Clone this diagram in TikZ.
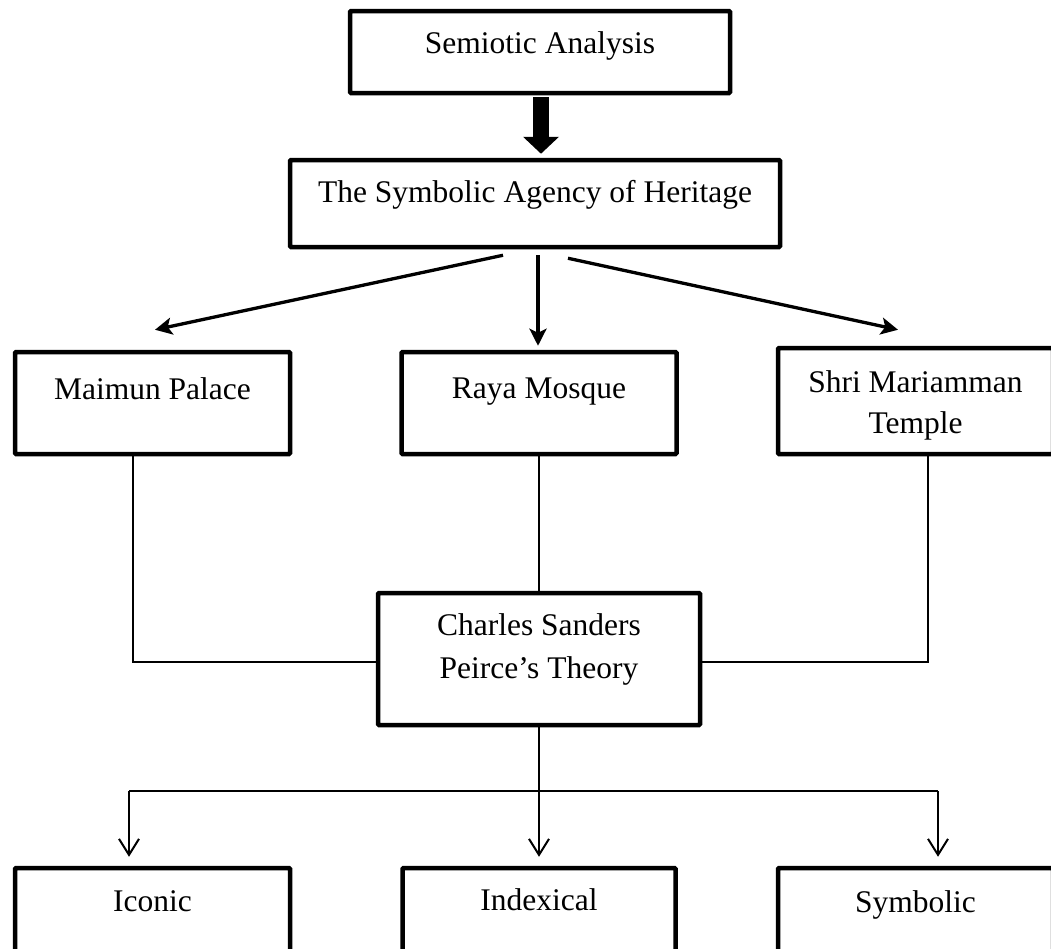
\documentclass[tikz,border=0pt]{standalone}
\usepackage{fontspec}
\setmainfont{Liberation Serif}
\usetikzlibrary{arrows.meta}
\begin{document}
\begin{tikzpicture}[x=1pt,y=-1pt,
  box/.style={draw, line width=4.5pt, inner sep=0pt, rounded corners=1pt},
  lbl/.style={anchor=base, font=\fontsize{31.5}{42}\selectfont, inner sep=0pt},
  bigarrow/.style={line width=16pt, -{Triangle[length=17pt,width=35pt]}},
  diag/.style={line width=3.3pt, -{Stealth[length=17pt,width=17pt,inset=4pt]}},
  thinline/.style={line width=1.6pt},
  barb/.style={line width=2pt, -{Straight Barb[length=16pt,width=20pt]}}
]
\fill[white] (0,0) rectangle (1051,948);
\useasboundingbox (0,0) rectangle (1051,948);

% boxes
\node[box, minimum width=380pt, minimum height=82pt] (sem) at (540,52) {};
\node[box, minimum width=490pt, minimum height=87pt] (sym) at (535,203.5) {};
\node[box, minimum width=275pt, minimum height=102pt] (mai) at (152.5,403) {};
\node[box, minimum width=275pt, minimum height=102pt] (raya) at (539,403) {};
\node[box, minimum width=275pt, minimum height=106pt] (shri) at (915.5,401) {};
\node[box, minimum width=322pt, minimum height=132pt] (peirce) at (539,659) {};
\node[box, minimum width=275pt, minimum height=132pt] (icon) at (152.5,934) {};
\node[box, minimum width=273pt, minimum height=132pt] (index) at (539,934) {};
\node[box, minimum width=275pt, minimum height=132pt] (symb) at (915.5,934) {};

% texts
\node[lbl] (tsem) at (540,53) {Semiotic Analysis};
\node[lbl] (tsym) at (535,202) {The Symbolic Agency of Heritage};
\node[lbl] (tmai) at (152.5,399) {Maimun Palace};
\node[lbl] (traya) at (539,398) {Raya Mosque};
\node[lbl] (tshri1) at (915.5,392) {Shri Mariamman};
\node[lbl] (tshri2) at (915.5,433) {Temple};
\node[lbl] (tp1) at (539,635) {Charles Sanders};
\node[lbl] (tp2) at (539,678) {Peirce’s Theory};
\node[lbl] (ticon) at (152.5,911) {Iconic};
\node[lbl] (tindex) at (539,910) {Indexical};
\node[lbl] (tsymb) at (915.5,912) {Symbolic};

% big arrow
\draw[bigarrow, shorten <=2pt, shorten >=4pt] ([xshift=1pt]sem.south) -- ([xshift=6pt]sym.north);

% diagonal arrows
\draw[diag] ([xshift=-32pt,yshift=-6pt]sym.south) -- ([xshift=2.5pt,yshift=20pt]mai.north);
\draw[diag] ([xshift=3pt,yshift=-6pt]sym.south) -- ([xshift=-1pt,yshift=4pt]raya.north);
\draw[diag] ([xshift=33pt,yshift=-9pt]sym.south) -- ([xshift=-17.5pt,yshift=16pt]shri.north);

% lines to Peirce
\draw[thinline] ([xshift=-19.5pt]mai.south) |- ([yshift=-3pt]peirce.west);
\draw[thinline] (raya.south) -- (peirce.north);
\draw[thinline] ([xshift=12.5pt]shri.south) |- ([yshift=-3pt]peirce.east);

% bottom branch
\coordinate (bl) at (129,791);
\coordinate (br) at (938,791);
\draw[line width=2pt] (bl) -- (br);
\draw[barb, shorten >=9pt] (peirce.south) -- (index.north);
\draw[barb, shorten >=9pt] (bl) -- (bl |- icon.north);
\draw[barb, shorten >=9pt] (br) -- (br |- symb.north);
\end{tikzpicture}
\end{document}
